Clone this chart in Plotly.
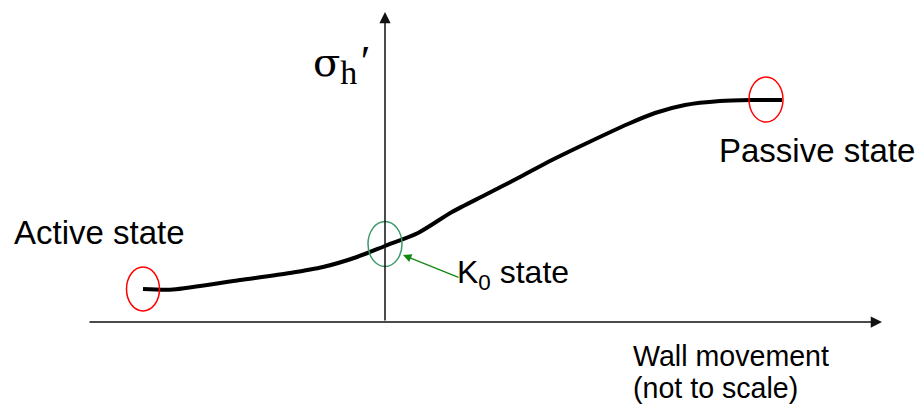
import plotly.graph_objects as go

# Schematic data (arbitrary units, origin at the axes crossing)
movement = [-242, -212, -145, -95, -62, -28, 0, 33, 67, 100, 133, 167, 200, 243, 270, 300, 335, 365, 397]
stress = [33, 32.5, 42, 49, 55, 65, 76, 89, 110, 127, 144, 162, 178, 198, 209, 217, 221, 222, 222]

# States: (x, y) of marked points
active_pt = (movement[0], stress[0])
k0_pt = (0, 78)
passive_pt = (381, 222.5)

FONT = "Liberation Sans, Arial, sans-serif"
SERIF = "DejaVu Serif, Liberation Serif, serif"

fig = go.Figure()
fig.add_trace(go.Scatter(x=movement, y=stress, mode="lines",
                         line=dict(color="black", width=4, shape="spline", smoothing=0.7),
                         hoverinfo="skip", showlegend=False))

shapes = []
def ellipse(c, rx, ry, color, w=1.5):
    return dict(type="circle", xref="x", yref="y", x0=c[0]-rx, x1=c[0]+rx,
                y0=c[1]-ry, y1=c[1]+ry, line=dict(color=color, width=w))

shapes.append(ellipse(active_pt, 16.5, 22, "#ff0000"))
shapes.append(ellipse(passive_pt, 17, 22.5, "#ff0000"))
shapes.append(ellipse(k0_pt, 17, 22.5, "#3a9a6a"))

sigma_label = ("σ<sub><span style='font-family:Liberation Serif, serif;font-size:34px'>h</span></sub>"
               "<span style='font-family:Liberation Serif, serif;font-size:14px'> </span>"
               "<span style='font-family:Liberation Serif, serif;font-size:44px'>′</span>")

annotations = [
    # x axis
    dict(x=497, y=0, ax=-297, ay=0, axref="x", ayref="y", xref="x", yref="y",
         showarrow=True, arrowhead=2, arrowsize=1.5, arrowwidth=1.5, arrowcolor="#111", text=""),
    # y axis
    dict(x=0, y=310, ax=0, ay=0, axref="x", ayref="y", xref="x", yref="y",
         showarrow=True, arrowhead=2, arrowsize=1.5, arrowwidth=1.5, arrowcolor="#111", text=""),
    # K0 arrow
    dict(x=18, y=67, ax=75, ay=44, axref="x", ayref="y", xref="x", yref="y",
         showarrow=True, arrowhead=2, arrowsize=1.3, arrowwidth=1.3, arrowcolor="#118811", text=""),
    dict(x=-373, y=90, xref="x", yref="y", text="Active state", showarrow=False,
         xanchor="left", yanchor="middle", font=dict(family=FONT, size=33, color="black")),
    dict(x=332, y=172, xref="x", yref="y", text="Passive state", showarrow=False,
         xanchor="left", yanchor="middle", font=dict(family=FONT, size=33, color="black")),
    dict(x=70, y=48, xref="x", yref="y", text="K<sub>0</sub> state", showarrow=False,
         xanchor="left", yanchor="middle", font=dict(family=FONT, size=32, color="black")),
    dict(x=246, y=-34, xref="x", yref="y", text="Wall movement", showarrow=False,
         xanchor="left", yanchor="middle", font=dict(family=FONT, size=28.6, color="black")),
    dict(x=246, y=-66, xref="x", yref="y", text="(not to scale)", showarrow=False,
         xanchor="left", yanchor="middle", font=dict(family=FONT, size=28.6, color="black")),
    dict(x=-74, y=258, xref="x", yref="y", text=sigma_label, showarrow=False,
         xanchor="left", yanchor="middle", font=dict(family=SERIF, size=40, color="black")),
]

fig.update_layout(
    width=918, height=410, autosize=False,
    margin=dict(l=0, r=0, t=0, b=0),
    paper_bgcolor="white", plot_bgcolor="white",
    xaxis=dict(range=[-385, 533], visible=False, fixedrange=True),
    yaxis=dict(range=[-88, 322], visible=False, fixedrange=True),
    shapes=shapes, annotations=annotations, showlegend=False,
)
fig.write_html("out.html", config={"displayModeBar": False},
               post_script="document.body.style.margin='0px';")
